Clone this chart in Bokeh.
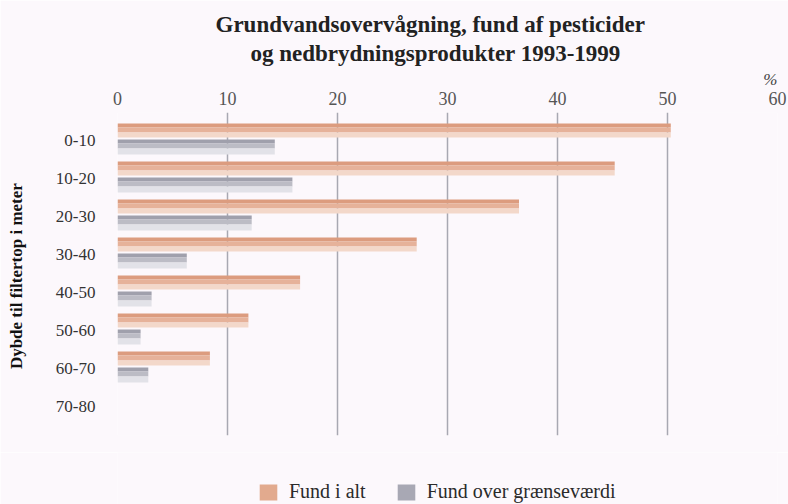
from bokeh.plotting import figure
from bokeh.layouts import column
from bokeh.models import (ColumnDataSource, Range1d, FixedTicker, Title, Legend,
                          LegendItem)
from bokeh.transform import dodge
from bokeh.embed import file_html
from bokeh.resources import INLINE

# ---- data ----
categories = ["0-10", "10-20", "20-30", "30-40", "40-50", "50-60", "60-70", "70-80"]
fund_i_alt = [50.3, 45.2, 36.5, 27.2, 16.6, 11.9, 8.4, 0.0]
fund_over_graensevaerdi = [14.3, 15.9, 12.2, 6.3, 3.1, 2.1, 2.8, 0.0]
x_ticks = [0, 10, 20, 30, 40, 50, 60]

title_line1 = "Grundvandsovervågning, fund af pesticider"
title_line2 = "og nedbrydningsprodukter 1993-1999"
y_title = "Dybde  til filtertop i meter"
unit_label = "%"
series_names = ["Fund i alt", "Fund over grænseværdi"]

pos = list(range(len(categories)))
src = ColumnDataSource(dict(y=pos, total=fund_i_alt, over=fund_over_graensevaerdi))

BG = "#fcf8fc"
SERIF = "Liberation Serif"
PX = 38.0  # pixels per category

p = figure(width=788, height=452, output_backend="svg", toolbar_location=None,
           x_range=Range1d(0, 60), y_range=Range1d((435 - 140) / PX, (112 - 140) / PX),
           x_axis_location="above",
           min_border_left=117, min_border_right=11, min_border_top=112,
           min_border_bottom=17)
p.background_fill_color = BG
p.border_fill_color = BG
p.outline_line_color = None

# x axis (top)
p.xaxis.ticker = FixedTicker(ticks=x_ticks)
p.xaxis.axis_line_color = None
p.xaxis.major_tick_line_color = None
p.xaxis.minor_tick_line_color = None
p.xaxis.major_label_text_font = SERIF
p.xaxis.major_label_text_font_size = "18px"
p.xaxis.major_label_text_color = "#555555"
p.xaxis.major_label_standoff = 2

# y axis (categories)
p.yaxis.ticker = FixedTicker(ticks=pos)
p.yaxis.major_label_overrides = {i: c for i, c in enumerate(categories)}
p.yaxis.axis_line_color = None
p.yaxis.major_tick_line_color = None
p.yaxis.minor_tick_line_color = None
p.yaxis.major_label_text_font = SERIF
p.yaxis.major_label_text_font_size = "17px"
p.yaxis.major_label_text_color = "#333333"
p.yaxis.major_label_standoff = 16
p.yaxis.axis_label = y_title
p.yaxis.axis_label_text_font = SERIF
p.yaxis.axis_label_text_font_style = "bold"
p.yaxis.axis_label_text_font_size = "17px"
p.yaxis.axis_label_text_color = "#111111"
p.yaxis.axis_label_standoff = 27

p.xgrid.grid_line_color = "#a8a8b2"
p.xgrid.grid_line_width = 1.5
p.ygrid.grid_line_color = None

# bars drawn as stacked strips to imitate the gradient
orange_strips = [(-17, -13, "#dc9c7f"), (-13, -8, "#e6b29a"), (-8, -3, "#f3d8ca")]
gray_strips = [(-1, 3, "#a0a0ac"), (3, 8, "#bcbcc5"), (8, 14, "#e2e2e8")]

for top, bot, col in orange_strips:
    p.hbar(y=dodge("y", (top + bot) / 2 / PX), height=(bot - top) / PX,
           left=0, right="total", source=src, fill_color=col, line_color=None)
for top, bot, col in gray_strips:
    p.hbar(y=dodge("y", (top + bot) / 2 / PX), height=(bot - top) / PX,
           left=0, right="over", source=src, fill_color=col, line_color=None)

# titles (added nearest-to-frame first)
p.add_layout(Title(text=unit_label, align="right", text_font=SERIF,
                   text_font_style="italic", text_font_size="17px",
                   text_color="#444444", standoff=0, offset=0), "above")
p.add_layout(Title(text=title_line2, align="left", offset=133, text_font=SERIF,
                   text_font_style="bold", text_font_size="23px",
                   text_color="#222222", standoff=3), "above")
p.add_layout(Title(text=title_line1, align="left", offset=98, text_font=SERIF,
                   text_font_style="bold", text_font_size="23px",
                   text_color="#222222", standoff=1), "above")

# legend strip (separate small figure below the chart)
lf = figure(width=788, height=52, output_backend="svg", toolbar_location=None,
            x_axis_location=None, y_axis_location=None,
            x_range=Range1d(0, 1), y_range=Range1d(0, 1),
            min_border=0)
lf.background_fill_color = BG
lf.border_fill_color = BG
lf.outline_line_color = None
lf.grid.grid_line_color = None
# off-screen proxies, only used for the legend swatches
g1 = lf.hbar(y=[-5], left=[-5], right=[-4], height=1, fill_color="#e2aa8e", line_color=None)
g2 = lf.hbar(y=[-5], left=[-5], right=[-4], height=1, fill_color="#a8a8b4", line_color=None)
legend = Legend(items=[LegendItem(label=series_names[0], renderers=[g1]),
                       LegendItem(label=series_names[1], renderers=[g2])],
                location=(140, 1), orientation="horizontal",
                padding=0, margin=0, spacing=29, label_standoff=10,
                glyph_width=22, glyph_height=20,
                border_line_color=None, background_fill_alpha=0,
                label_text_font=SERIF, label_text_font_size="20px",
                label_text_color="#2a2a2a", label_text_baseline="middle")
lf.add_layout(legend, "center")

open("out.html", "w").write(file_html(column(p, lf, spacing=0), INLINE))
